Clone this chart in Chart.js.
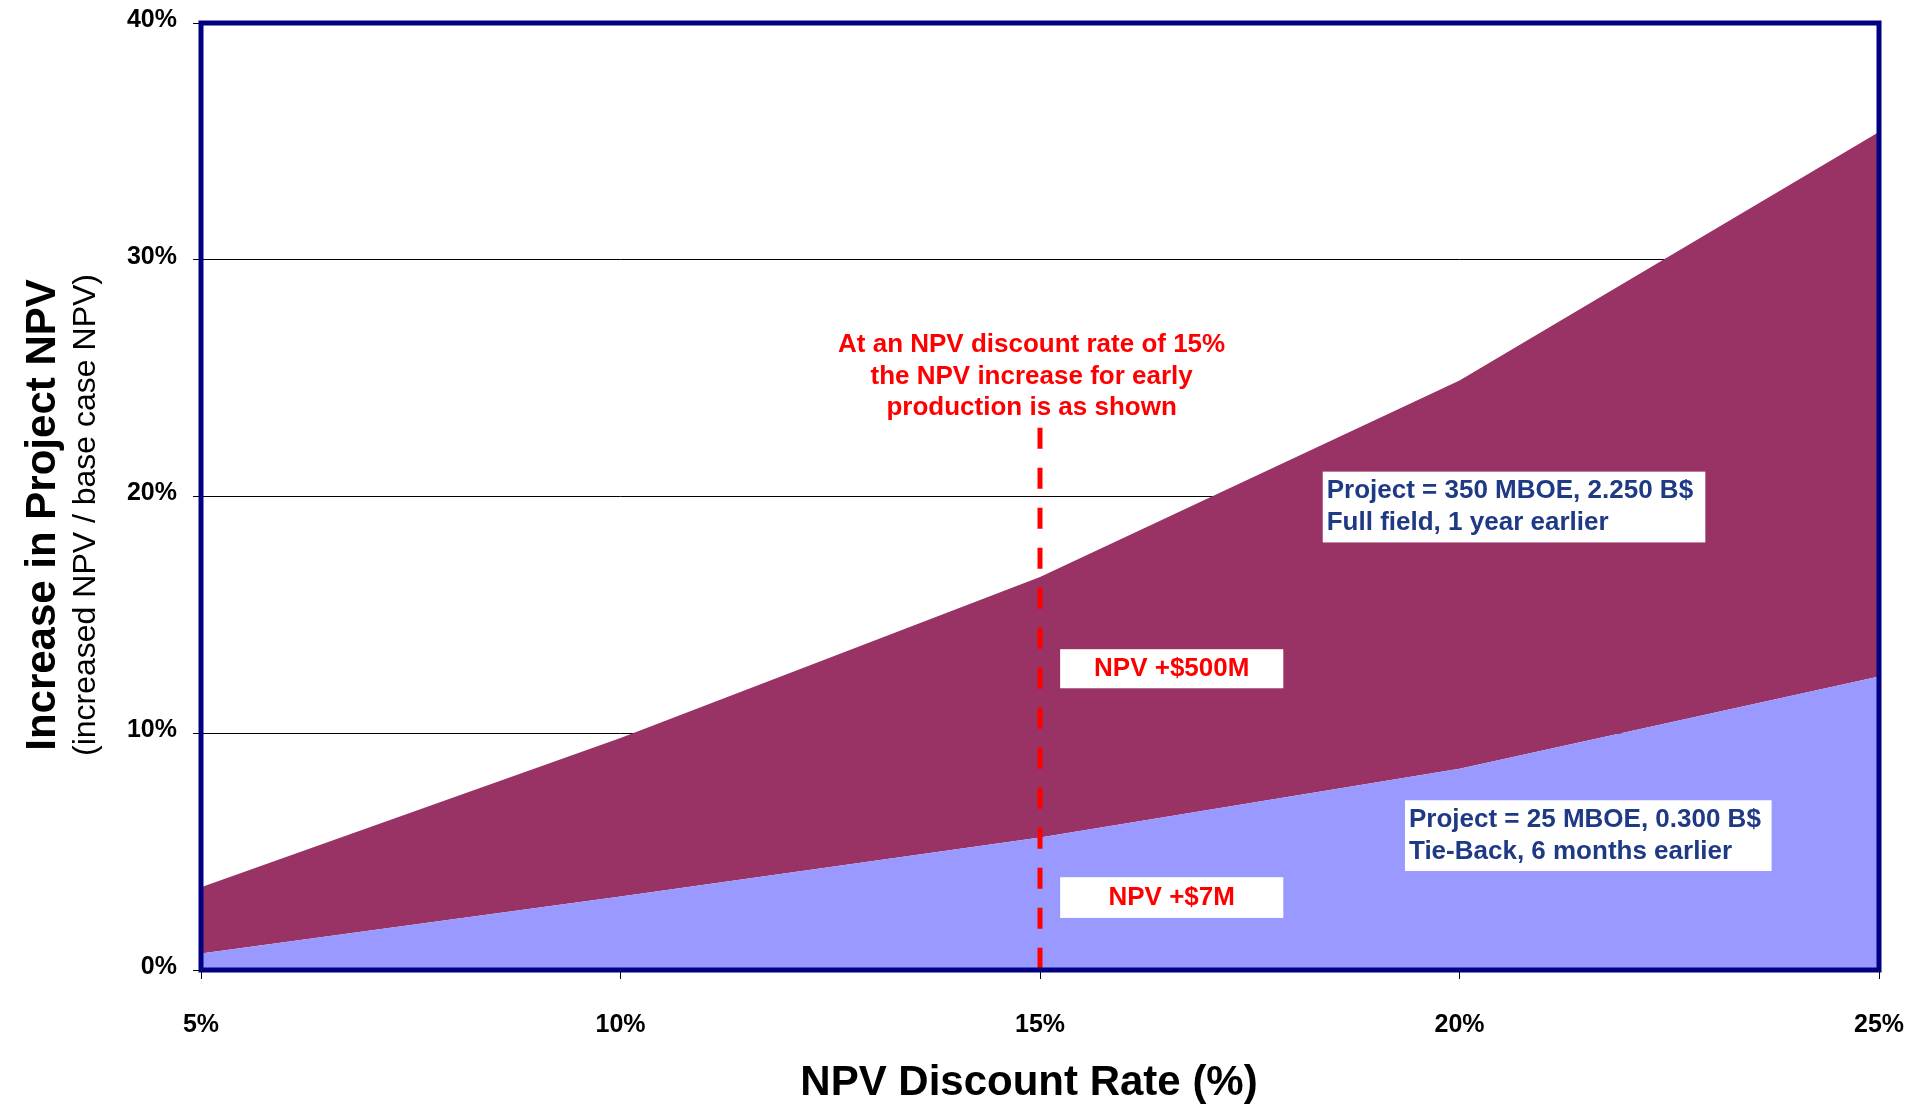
<!DOCTYPE html>
<html>
<head>
<meta charset="utf-8">
<script src="https://cdn.jsdelivr.net/npm/chart.js@4/dist/chart.umd.min.js"></script>
<style>
  html, body { margin: 0; padding: 0; background: #fff; }
  #wrap { width: 1907px; height: 1107px; }
</style>
</head>
<body>
<div id="wrap"><canvas id="npvChart" width="1907" height="1107"></canvas></div>
<script>
// discount rates on the x axis (%)
var discountRates = [5, 10, 15, 20, 25];
// NPV increase (%)
var fullField = [3.5, 9.8, 16.6, 24.9, 35.4];   // 350 MBOE, 1 year earlier
var tieBack = [0.7, 3.1, 5.6, 8.5, 12.4];       // 25 MBOE, 6 months earlier
var yTicks = [0, 10, 20, 30, 40];

var FONT = '"Liberation Sans", Arial, sans-serif';
var RED = '#ff0000';
var NAVY_TEXT = '#1f3a84';

// notes drawn on the chart, placed in data units
var notes = [
  { type: 'text', x: 14.9, y: 26.4, lines: ['At an NPV discount rate of 15%'] },
  { type: 'text', x: 14.9, y: 25.05, lines: ['the NPV increase for early'] },
  { type: 'text', x: 14.9, y: 23.75, lines: ['production is as shown'] },
  { type: 'box', x0: 15.24, x1: 17.9, y0: 13.55, y1: 11.9, lines: ['NPV +$500M'], color: RED, align: 'center' },
  { type: 'box', x0: 15.24, x1: 17.9, y0: 3.92, y1: 2.2, lines: ['NPV +$7M'], color: RED, align: 'center' },
  { type: 'box', x0: 18.37, x1: 22.93, y0: 21.05, y1: 18.06, lines: ['Project = 350 MBOE, 2.250 B$', 'Full field, 1 year earlier'], color: NAVY_TEXT, align: 'left' },
  { type: 'box', x0: 19.35, x1: 23.72, y0: 7.17, y1: 4.18, lines: ['Project = 25 MBOE, 0.300 B$', 'Tie-Back, 6 months earlier'], color: NAVY_TEXT, align: 'left' }
];

function toPoints(vals) {
  return discountRates.map(function (r, i) { return { x: r, y: vals[i] }; });
}

var extras = {
  id: 'extras',
  afterDatasetsDraw: function (chart) {
    var ctx = chart.ctx, a = chart.chartArea;
    var xs = chart.scales.x, ys = chart.scales.y;
    ctx.save();

    // red dashed marker at 15%
    ctx.strokeStyle = RED;
    ctx.lineWidth = 5;
    ctx.setLineDash([21, 19]);
    ctx.beginPath();
    ctx.moveTo(xs.getPixelForValue(15), ys.getPixelForValue(22.9));
    ctx.lineTo(xs.getPixelForValue(15), a.bottom);
    ctx.stroke();
    ctx.setLineDash([]);

    notes.forEach(function (n) {
      if (n.type === 'text') {
        ctx.font = 'bold 26px ' + FONT;
        ctx.fillStyle = RED;
        ctx.textAlign = 'center';
        ctx.textBaseline = 'middle';
        ctx.fillText(n.lines[0], xs.getPixelForValue(n.x), ys.getPixelForValue(n.y));
      } else {
        var l = xs.getPixelForValue(n.x0), r = xs.getPixelForValue(n.x1);
        var t = ys.getPixelForValue(n.y0), b = ys.getPixelForValue(n.y1);
        ctx.fillStyle = '#ffffff';
        ctx.fillRect(l, t, r - l, b - t);
        ctx.font = 'bold 26px ' + FONT;
        ctx.fillStyle = n.color;
        ctx.textBaseline = 'middle';
        var lh = 32;
        var cy = (t + b) / 2 - (n.lines.length - 1) * lh / 2;
        n.lines.forEach(function (s, i) {
          if (n.align === 'center') {
            ctx.textAlign = 'center';
            ctx.fillText(s, (l + r) / 2, cy + i * lh);
          } else {
            ctx.textAlign = 'left';
            ctx.fillText(s, l + 4, cy + i * lh);
          }
        });
      }
    });

    // navy frame round the plot
    ctx.strokeStyle = '#000080';
    ctx.lineWidth = 5;
    ctx.strokeRect(a.left, a.top, a.right - a.left, a.bottom - a.top);

    // x axis title
    ctx.fillStyle = '#000';
    ctx.textAlign = 'center';
    ctx.textBaseline = 'middle';
    ctx.font = 'bold 42px ' + FONT;
    ctx.fillText('NPV Discount Rate (%)', 1029, 1083);

    // y axis title, two lines
    ctx.translate(43, 515);
    ctx.rotate(-Math.PI / 2);
    ctx.font = 'bold 42px ' + FONT;
    ctx.fillText('Increase in Project NPV', 0, 0);
    ctx.font = '32px ' + FONT;
    ctx.fillText('(increased NPV / base case NPV)', 0, 43);
    ctx.restore();
  }
};

var ctx = document.getElementById('npvChart').getContext('2d');
var chart = new Chart(ctx, {
  type: 'line',
  data: {
    datasets: [{
      label: 'Tie-Back',
      data: toPoints(tieBack),
      backgroundColor: '#9999ff',
      borderColor: 'rgba(0,0,0,0)',
      borderWidth: 0,
      pointRadius: 0,
      tension: 0,
      fill: 'origin'
    }, {
      label: 'Full field',
      data: toPoints(fullField),
      backgroundColor: '#993366',
      borderColor: 'rgba(0,0,0,0)',
      borderWidth: 0,
      pointRadius: 0,
      tension: 0,
      fill: '-1'
    }]
  },
  options: {
    responsive: false,
    animation: false,
    layout: { padding: { left: 0, right: 28, top: 23, bottom: 0 } },
    plugins: { legend: { display: false }, tooltip: { enabled: false } },
    scales: {
      x: {
        type: 'linear',
        min: 5,
        max: 25,
        afterBuildTicks: function (s) { s.ticks = discountRates.map(function (v) { return { value: v }; }); },
        afterFit: function (s) { s.height = 137; s.paddingLeft = 0; s.paddingRight = 0; },
        border: { display: false },
        grid: { drawOnChartArea: false, color: '#000', tickLength: 9 },
        ticks: {
          padding: 31,
          color: '#000',
          font: { family: FONT, size: 25, weight: 'bold' },
          callback: function (v) { return v + '%'; }
        }
      },
      y: {
        min: 0,
        max: 40,
        afterBuildTicks: function (s) { s.ticks = yTicks.map(function (v) { return { value: v }; }); },
        afterFit: function (s) { s.width = 201; s.paddingTop = 0; s.paddingBottom = 0; },
        border: { display: false },
        grid: { color: '#000', lineWidth: 1, tickLength: 8 },
        ticks: {
          padding: 16,
          labelOffset: -3,
          color: '#000',
          font: { family: FONT, size: 25, weight: 'bold' },
          callback: function (v) { return v + '%'; }
        }
      }
    }
  },
  plugins: [extras]
});
</script>
</body>
</html>
